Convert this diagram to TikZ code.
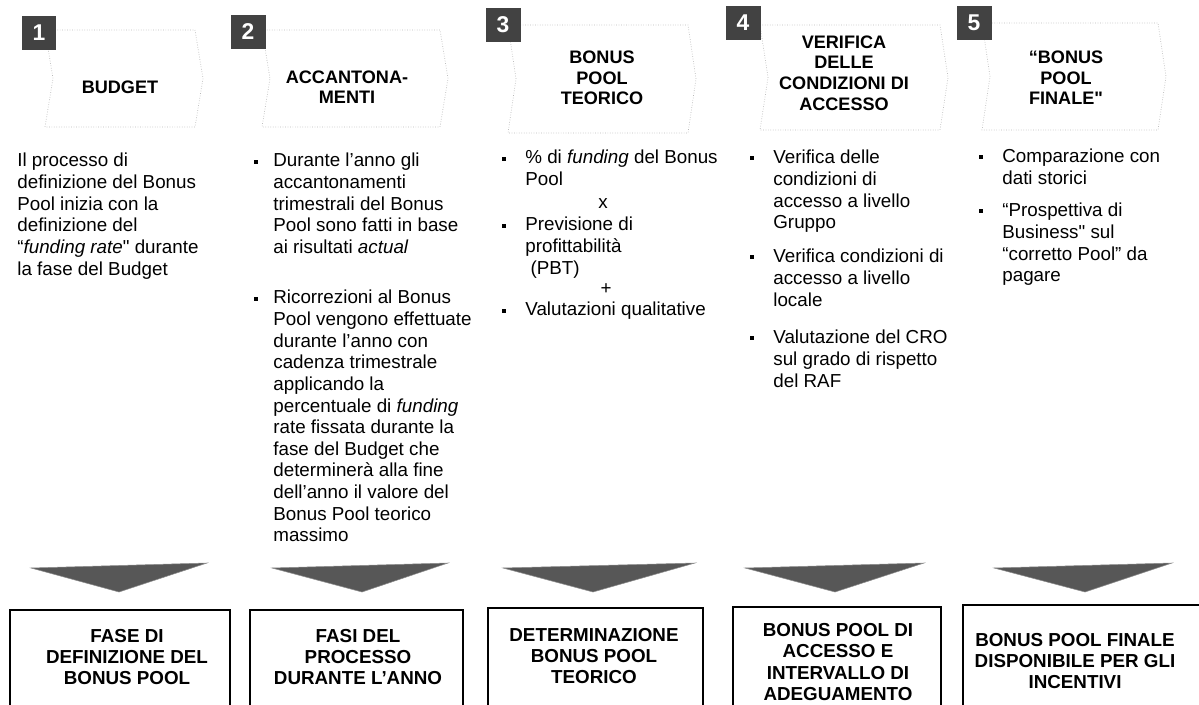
\documentclass[tikz,border=0pt]{standalone}
\usepackage{fontspec}
\setmainfont{Liberation Sans}[Ligatures=TeXOff]
\usetikzlibrary{positioning}

\begin{document}
\begin{tikzpicture}[x=0.02cm, y=-0.02cm,
        numbox/.style={rectangle, fill=black!74, text=white, minimum width=0.7cm, minimum height=0.68cm, inner sep=0pt, font=\bfseries\fontsize{13}{13}\selectfont},
        chevron/.style={draw=black!28, densely dotted, line width=0.4pt},
        headtext/.style={align=center, inner sep=0pt, font=\bfseries\fontsize{10.3}{11.7}\selectfont},
        bodytext/.style={align=left, anchor=north west, inner sep=0pt, font=\fontsize{10.7}{12.3}\selectfont},
        bulletmark/.style={rectangle, fill=black, inner sep=0pt, minimum size=2.6pt},
        downarrow/.style={fill=black!66, draw=black!45, line width=0.3pt},
        outbox/.style={draw=black, line width=0.8pt},
        outtext/.style={align=center, inner sep=0pt, font=\bfseries\fontsize{10.7}{12}\selectfont}
    ]
        \useasboundingbox (0,0) rectangle (1199,705);
        \clip (0,0) rectangle (1199,705);

        % header chevrons
        \foreach \l/\r/\t/\b in {45/195/30/127, 262/440/30/127, 508/688/25/133, 760/940/25/130, 982/1158/23/130}
            \draw[chevron] (\l,\t) -- (\r,\t) -- (\r+8,{(\t+\b)/2}) -- (\r,\b) -- (\l,\b) -- (\l+8,{(\t+\b)/2}) -- cycle;

        \node[numbox] (n1) at (39,33) {1};
        \node[numbox] (n2) at (248,32) {2};
        \node[numbox] (n3) at (503,25) {3};
        \node[numbox] (n4) at (743,23) {4};
        \node[numbox] (n5) at (974,23) {5};

        \node[headtext] (h1) at (120,87) {BUDGET};
        \node[headtext] (h2) at (347,87) {ACCANTONA-\\MENTI};
        \node[headtext] (h3) at (602,78) {BONUS\\POOL\\TEORICO};
        \node[headtext] (h4) at (844,73) {VERIFICA\\DELLE\\CONDIZIONI DI\\ACCESSO};
        \node[headtext] (h5) at (1066,78) {“BONUS\\POOL\\FINALE"};

        % column texts
        \node[bodytext] (a11) at (17,153) {Il processo di\\definizione del Bonus\\Pool inizia con la\\definizione del\\“\textit{funding rate}" durante\\la fase del Budget};

        \node[bulletmark] (m21) at (256,162) {};
        \node[bodytext] (a21) at (273,153) {Durante l’anno gli\\accantonamenti\\trimestrali del Bonus\\Pool sono fatti in base\\ai risultati \textit{actual}};
        \node[bulletmark] (m22) at (256,299) {};
        \node[bodytext] (a22) at (273,290) {Ricorrezioni al Bonus\\Pool vengono effettuate\\durante l’anno con\\cadenza trimestrale\\applicando la\\percentuale di \textit{funding}\\rate fissata durante la\\fase del Budget che\\determinerà alla fine\\dell’anno il valore del\\Bonus Pool teorico\\massimo};

        \node[bulletmark] (m31) at (504,159) {};
        \node[bodytext] (a31) at (525,150) {\% di \textit{funding} del Bonus\\Pool};
        \node[bodytext, anchor=center] (x3) at (603,204) {x};
        \node[bulletmark] (m32) at (504,226) {};
        \node[bodytext] (a32) at (525,217) {Previsione di\\profittabilità\\\hspace*{3pt}(PBT)};
        \node[bodytext, anchor=center] (plus3) at (606,289) {+};
        \node[bulletmark] (m33) at (504,311) {};
        \node[bodytext] (a33) at (525,302) {Valutazioni qualitative};

        \node[bulletmark] (m41) at (752,158) {};
        \node[bodytext] (a41) at (773,150) {Verifica delle\\condizioni di\\accesso a livello\\Gruppo};
        \node[bulletmark] (m42) at (752,257) {};
        \node[bodytext] (a42) at (773,249) {Verifica condizioni di\\accesso a livello\\locale};
        \node[bulletmark] (m43) at (752,338) {};
        \node[bodytext] (a43) at (773,330) {Valutazione del CRO\\sul grado di rispetto\\del RAF};

        \node[bulletmark] (m51) at (981,157) {};
        \node[bodytext] (a51) at (1002,149) {Comparazione con\\dati storici};
        \node[bulletmark] (m52) at (981,211) {};
        \node[bodytext] (a52) at (1002,203) {“Prospettiva di\\Business" sul\\“corretto Pool” da\\pagare};

        % down arrows
        \foreach \l/\r/\tx in {31/207/119, 272/448/362, 503/695/593, 745/924/835, 994/1172/1085}
            \filldraw[downarrow] (\l,568) -- (\r,563) -- (\tx,592) -- cycle;

        % result boxes
        \foreach \l/\r/\t in {10/230/610, 250/463/610, 488/703/608, 733/941/607, 963/1212/605}
            \draw[outbox] (\l,\t) rectangle (\r,712);

        \node[outtext] (f1) at (127,657) {FASE DI\\DEFINIZIONE DEL\\BONUS POOL};
        \node[outtext] (f2) at (358,657) {FASI DEL\\PROCESSO\\DURANTE L’ANNO};
        \node[outtext] (f3) at (594,656) {DETERMINAZIONE\\BONUS POOL\\TEORICO};
        \node[outtext] (f4) at (838,662) {BONUS POOL DI\\ACCESSO E\\INTERVALLO DI\\ADEGUAMENTO};
        \node[outtext] (f5) at (1075,661) {BONUS POOL FINALE\\DISPONIBILE PER GLI\\INCENTIVI};
    \end{tikzpicture}
\end{document}
